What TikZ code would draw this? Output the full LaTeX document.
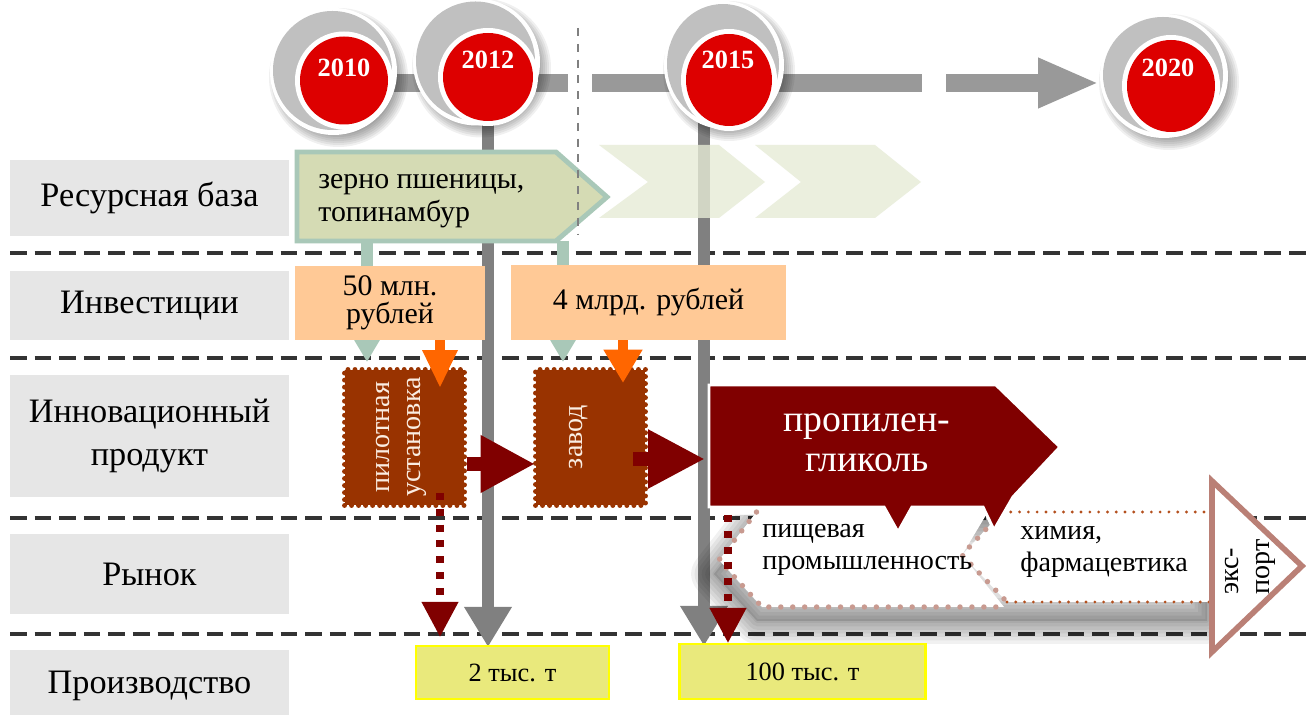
\documentclass[tikz,border=0pt]{standalone}
\usepackage{fontspec}
\setmainfont{Liberation Serif}
\usetikzlibrary{arrows.meta}

\definecolor{rowgray}{HTML}{E6E6E6}
\definecolor{sepdark}{HTML}{333333}
\definecolor{tlgray}{HTML}{999999}
\definecolor{vgray}{HTML}{808080}
\definecolor{resfill}{HTML}{D5DBB4}
\definecolor{resedge}{HTML}{A9C8B8}
\definecolor{chevfill}{HTML}{E6EBD6}
\definecolor{invfill}{HTML}{FFC996}
\definecolor{invarrow}{HTML}{FF6600}
\definecolor{brickc}{HTML}{993300}
\definecolor{darkredc}{HTML}{800000}
\definecolor{rosyc}{HTML}{C89A90}
\definecolor{rustdot}{HTML}{B4501E}
\definecolor{exportc}{HTML}{BA8076}
\definecolor{outfill}{HTML}{E9E97C}
\definecolor{outedge}{HTML}{FFFF00}
\definecolor{yearred}{HTML}{DD0000}
\definecolor{crescent}{HTML}{C0C0C0}
\definecolor{prodtxt}{HTML}{FAEDE2}

% year badge: outer centre, outer radii, inner centre, inner radii
\newcommand{\yearbadge}[8]{%
  \foreach \k in {0,...,6}
    \fill[black,opacity=0.06] (#1+5,#2+6) ellipse [x radius=#3+6-2*\k, y radius=#4+6-2*\k];
  \fill[white] (#1,#2) ellipse [x radius=#3, y radius=#4];
  \fill[crescent] (#1-1,#2-1) ellipse [x radius=#3-4, y radius=#4-4];
  \fill[white] (#5,#6) ellipse [x radius=#7+5, y radius=#8+5];
  \fill[yearred] (#5,#6) ellipse [x radius=#7, y radius=#8];
}

\begin{document}
\begin{tikzpicture}[x=0.02cm, y=-0.02cm,
  rowlab/.style={fill=rowgray, minimum width=5.58cm, inner sep=0pt, align=center,
                 font=\fontsize{19.5}{24}\selectfont},
  sepline/.style={draw=sepdark, line width=2.3pt, dash pattern=on 9.5pt off 4.5pt},
  tlshaft/.style={draw=tlgray, line width=10.2pt},
  vline/.style={draw=vgray, line width=6.8pt, -{Triangle[length=22.8pt, width=25.6pt]}},
  tealline/.style={draw=resedge, line width=6.5pt, -{Triangle[length=12.5pt, width=13.7pt]}},
  invbox/.style={fill=invfill, inner sep=0pt, align=center, font=\fontsize{17}{16}\selectfont},
  invlink/.style={draw=invarrow, line width=5.2pt},
  brick/.style={fill=brickc, draw=brickc, line width=2.8pt, dash pattern=on 0pt off 4pt,
                line cap=round, inner sep=0pt},
  prodlbl/.style={rotate=90, align=center, text=prodtxt, font=\fontsize{16}{17.6}\selectfont},
  steplink/.style={draw=darkredc, line width=8.5pt},
  dotlink/.style={draw=darkredc, line width=4pt, dash pattern=on 4pt off 5pt,
                  -{Triangle[length=20pt, width=20pt]}},
  mktlbl/.style={anchor=west, align=left, inner sep=0pt, font=\fontsize{16}{18.5}\selectfont},
  outbox/.style={fill=outfill, draw=outedge, line width=1.2pt, inner sep=0pt,
                 font=\fontsize{15}{15}\selectfont},
  yeartxt/.style={text=white, font=\bfseries\fontsize{15}{15}\selectfont, inner sep=0pt}
]
\useasboundingbox (0,0) rectangle (1306,715);
\fill[white] (0,0) rectangle (1306,715);

% ---- row captions ----
\node[rowlab, minimum height=1.52cm] (rowRes)  at (149.5,198)   {Ресурсная база};
\node[rowlab, minimum height=1.38cm] (rowInv)  at (149.5,305.5) {Инвестиции};
\node[rowlab, minimum height=2.44cm] (rowProd) at (149.5,436)   {Инновационный\\продукт};
\node[rowlab, minimum height=1.62cm] (rowMkt)  at (149.5,574)   {Рынок};
\node[rowlab, minimum height=1.44cm] (rowOut)  at (149.5,686)   {Производство};

% ---- row separators ----
\foreach \yy in {253,358,518,634}
  \draw[sepline] (10,\yy) -- (1306,\yy);

% ---- time axis ----
\coordinate (c2010) at (344,80);
\coordinate (c2012) at (488,77);
\coordinate (c2015) at (704,80);
\coordinate (c2020) at (1171,86);
\coordinate (tlA0) at (340,83);  \coordinate (tlA1) at (568,83);
\coordinate (tlB0) at (592,83);  \coordinate (tlB1) at (922,83);
\coordinate (tlC0) at (946,83);  \coordinate (tlC1) at (1099,83);
\draw[tlshaft] (tlA0) -- (tlA1);
\draw[tlshaft] (tlB0) -- (tlB1);
\draw[tlshaft, -{Triangle[length=34.7pt, width=26.2pt]}] (tlC0) -- (tlC1);

% drops from the milestones down to the output row
\coordinate (drop12) at (488,647);
\coordinate (drop15) at (704,646);
\draw[vline] (c2012) -- (drop12);
\draw[vline] (c2015) -- (drop15);

% ---- resource base ----
\fill[chevfill, opacity=0.8] (599,145) -- (719,145) -- (765,182) -- (719,218) -- (599,218) -- (648,182) -- cycle;
\fill[chevfill, opacity=0.8] (755,145) -- (875,145) -- (921,182) -- (875,218) -- (755,218) -- (801,182) -- cycle;

\coordinate (res1) at (367,241);
\coordinate (res2) at (563,241);
\coordinate (feed1) at (367,362);
\coordinate (feed2) at (563,362);
\draw[tealline] (res1) -- (feed1);
\draw[tealline] (res2) -- (feed2);

\filldraw[fill=resfill, draw=resedge, line width=2.8pt]
  (297,152) -- (556,152) -- (607,197) -- (556,241) -- (297,241) -- cycle;
\node[anchor=west, align=left, inner sep=0pt, font=\fontsize{17}{18.5}\selectfont]
  (resTxt) at (318,201) {зерно пшеницы,\\топинамбур};

% boundary of the first stage
\coordinate (stageTop) at (578,28);
\coordinate (stageBot) at (578,235);
\draw[vgray, line width=1.2pt, dash pattern=on 4.5pt off 4.5pt] (stageTop) -- (stageBot);

% ---- investments ----
\node[invbox, minimum width=3.8cm, minimum height=1.48cm] (inv1) at (390,303) {50 млн.\\рублей};
\node[invbox, minimum width=5.5cm, minimum height=1.5cm] (inv2) at (648.5,302.5) {4 млрд. рублей};

% ---- innovative product ----
\node[brick, minimum width=2.4cm, minimum height=2.72cm] (pilot) at (404.5,437.5) {};
\node[brick, minimum width=2.2cm, minimum height=2.72cm] (zavod) at (590.5,437.5) {};
\node[prodlbl] (pilotTxt) at (401,437) {пилотная\\установка};
\node[prodlbl] (zavodTxt) at (579,437) {завод};

\coordinate (invIn1) at (440,388);
\coordinate (invIn2) at (623,383);
\draw[invlink, -{Triangle[length=21.6pt, width=18.8pt]}] (inv1.south -| invIn1) -- (invIn1);
\draw[invlink, line width=5.7pt, -{Triangle[length=19pt, width=21pt]}] (inv2.south -| invIn2) -- (invIn2);

\coordinate (stepA0) at (467,464);  \coordinate (stepA1) at (535,464);
\coordinate (stepB0) at (633,459);  \coordinate (stepB1) at (705,459);
\draw[steplink, -{Triangle[length=31pt, width=30.7pt]}] (stepA0) -- (stepA1);
\draw[steplink, -{Triangle[length=32.4pt, width=31.3pt]}] (stepB0) -- (stepB1);

% ---- markets ----
% soft shadow under the market shapes
\begin{scope}
  \clip (680,515) rectangle (1000,665) (1000,560) rectangle (1215,665);
  \begin{scope}[shift={(-5,14)}]
    \fill[black, opacity=0.12]
      (719,560) -- (762,505) -- (1212,505) -- (1212,607) -- (762,607) -- cycle;
    \foreach \w in {26,22,18,14,10,6,2}
      \draw[black, opacity=0.055, line width=\w pt, line join=round]
        (719,560) -- (762,505) -- (1212,505) -- (1212,607) -- (762,607) -- cycle;
  \end{scope}
\end{scope}

\fill[white] (719,560) -- (762,505) -- (992,505) -- (962,555) -- (1004,607) -- (762,607) -- cycle;
\fill[white] (962,555) -- (1002,512) -- (1212,512) -- (1212,602) -- (1007,602) -- cycle;
\draw[rustdot, line width=1.8pt, dash pattern=on 0pt off 5pt, line cap=round]
  (1002,512) -- (1212,512) (1007,602) -- (1212,602);
\draw[rosyc, line width=3.1pt, dash pattern=on 0pt off 6.8pt, line cap=round]
  (992,505) -- (762,505) -- (719,560) -- (762,607) -- (1004,607);
\draw[rosyc, line width=3.1pt, dash pattern=on 0pt off 6.8pt, line cap=round]
  (1002,512) -- (962,555) -- (1007,602);

\node[mktlbl] (food) at (762,550) {пищевая\\промышленность};
\node[mktlbl] (chem) at (1020,552) {химия,\\фармацевтика};

% product: propylene glycol
\filldraw[fill=darkredc, draw=white, line width=1.7pt]
  (709,385) -- (996,385) -- (1060,447) -- (1013,497) -- (994,530) -- (983,507)
  -- (912,507) -- (898,532) -- (884,507) -- (709,507) -- cycle;
\node[align=center, text=white, font=\fontsize{21.5}{22.5}\selectfont] (glycol) at (867,443)
  {пропилен-\\гликоль};

% export
\filldraw[fill=white, draw=exportc, line width=3.2pt, line join=miter]
  (1212,481) -- (1302,566) -- (1212,652) -- cycle;
\node[rotate=90, align=left, font=\fontsize{16}{17.5}\selectfont] (export) at (1250,567) {экс-\\порт};

% ---- output ----
\node[outbox, minimum width=3.86cm, minimum height=1.06cm] (out1) at (512.5,672.5) {2 тыс. т};
\node[outbox, minimum width=4.92cm, minimum height=1.1cm] (out2) at (802.5,671.5) {100 тыс. т};

\coordinate (volA0) at (440,493);  \coordinate (volA1) at (440,637);
\coordinate (volB0) at (728,515);  \coordinate (volB1) at (728,643);
\draw[dotlink] (volA0) -- (volA1);
\draw[dotlink] (volB0) -- (volB1);

% ---- milestones ----
\yearbadge{333.5}{71.5}{63.5}{63.5}{344}{80.5}{44}{44}
\yearbadge{476.5}{62}{63.5}{63.5}{488}{77}{45}{44}
\yearbadge{724}{65}{60}{64}{729}{80}{43}{46}
\yearbadge{1164}{76}{64}{62}{1171}{86}{44}{46}
\node[yeartxt] (y2010) at (344,68) {2010};
\node[yeartxt] (y2012) at (488,60) {2012};
\node[yeartxt] (y2015) at (728,60) {2015};
\node[yeartxt] (y2020) at (1168,68) {2020};
\end{tikzpicture}
\end{document}
